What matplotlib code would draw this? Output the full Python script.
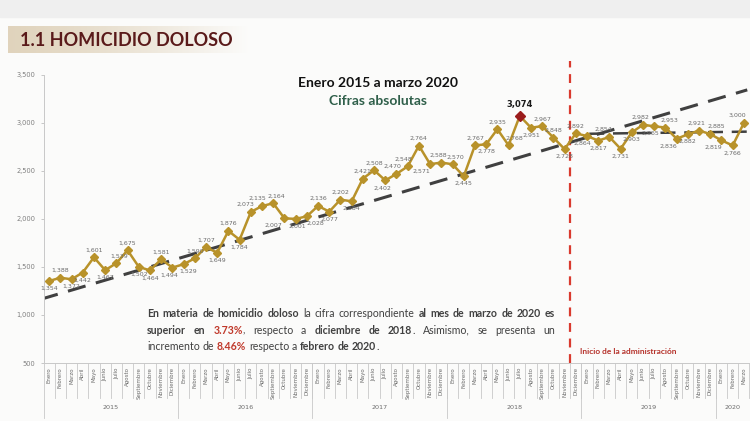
import matplotlib
matplotlib.use('Agg')
import matplotlib.pyplot as plt
import numpy as np
from matplotlib.transforms import blended_transform_factory, IdentityTransform

# datos
meses = ['Enero', 'Febrero', 'Marzo', 'Abril', 'Mayo', 'Junio', 'Julio', 'Agosto',
         'Septiembre', 'Octubre', 'Noviembre', 'Diciembre']
anios = ['2015', '2016', '2017', '2018', '2019', '2020']
meses_por_anio = [12, 12, 12, 12, 12, 3]
etiquetas_mes = meses * 5 + meses[:3]

homicidios = [1354, 1388, 1372, 1442, 1601, 1467, 1539, 1675, 1502, 1464, 1581, 1494,
              1529, 1590, 1707, 1649, 1876, 1784, 2073, 2135, 2164, 2007, 2001, 2028,
              2136, 2077, 2202, 2184, 2421, 2508, 2402, 2470, 2548, 2764, 2571, 2588,
              2570, 2445, 2767, 2778, 2935, 2768, 3074, 2951, 2967, 2848, 2728, 2892,
              2864, 2817, 2854, 2731, 2903, 2982, 2965, 2953, 2836, 2882, 2921, 2885,
              2819, 2766, 3000]
# a = etiqueta arriba, b = abajo
pos_etiqueta = ('babbabaabbab' + 'baababaaabbb' + 'ababaabaaaba' +
                'ababaaabaaba' + 'bbabbababbaa' + 'bba')
# corrimientos horizontales de algunas etiquetas (puntos)
corrimiento = {6: 2, 11: -2, 12: 3, 18: -4, 19: -3, 20: 2, 21: -8, 22: 1, 23: 6,
               30: -2, 31: -3, 32: -3, 34: -6, 35: -2, 36: 2, 41: 4, 48: -3, 50: -4,
               53: -2, 54: -3, 55: 3, 56: -6, 58: -2, 59: 4, 60: -6, 62: -5}

# lineas de tendencia
tend1_x = [-0.8, 62.3]
tend1_y = [1162, 3345]
tend2_x = [48.2, 62.3]
tend2_y = [2888, 2910]
inicio_admin = 46.5

W, H = 750, 421
fig = plt.figure(figsize=(7.5, 4.21), dpi=100)
fig.patch.set_facecolor('#fbfbfa')

def px(x):
    return x / W

def py(y):
    return 1 - y / H

# franja gris superior
fig.patches.append(plt.Rectangle((0, py(17)), 1, 17 / H, transform=fig.transFigure,
                                 color='#efefef', zorder=0))

# banda del titulo con degradado
band = fig.add_axes([px(8), py(53), px(240), 27 / H])
grad = np.linspace(0, 1, 256).reshape(1, -1)
c0 = np.array([0.88, 0.83, 0.74])
c1 = np.array([0.985, 0.985, 0.98])
img = c0[None, None, :] * (1 - grad[..., None] ** 1.3) + c1[None, None, :] * grad[..., None] ** 1.3
band.imshow(img, aspect='auto', extent=[0, 1, 0, 1])
band.axis('off')
fig.text(px(20), py(40), '1.1 HOMICIDIO DOLOSO', fontsize=13, fontweight='bold',
         family='Lato', color='#5a1a1a', va='center', ha='left')

ax = fig.add_axes([px(43.5), py(363), px(706), 288 / H])
ax.set_facecolor('none')
x = np.arange(len(homicidios))

ax.plot(tend1_x, tend1_y, color='#404040', lw=2.2, dashes=(6, 3.5), zorder=2)
ax.plot(tend2_x, tend2_y, color='#404040', lw=1.8, dashes=(6, 3.5), zorder=2)
ax.plot(x, homicidios, color='#b8922a', lw=1.8, marker='D', markersize=4.5, zorder=3)

pico = int(np.argmax(homicidios))
ax.plot(x[pico], homicidios[pico], marker='D', markersize=4.8, color='#9b1c1c', zorder=4)

for i, v in enumerate(homicidios):
    if i == pico:
        ax.annotate(f'{v:,}', (i, v), xytext=(0, 5), textcoords='offset points',
                    ha='center', va='bottom', fontsize=6, fontweight='bold', color='#1a1a1a')
        continue
    arriba = pos_etiqueta[i] == 'a'
    ax.annotate(f'{v:,}', (i, v), xytext=(corrimiento.get(i, 0), 3.5 if arriba else -3.5),
                textcoords='offset points', ha='center',
                va='bottom' if arriba else 'top', fontsize=4.5, color='#6b6b6b')

ax.set_xlim(-0.5, len(homicidios) - 0.5)
ax.set_ylim(500, 3500)
ax.set_yticks(range(500, 3501, 500))
ax.set_yticklabels([f'{t:,}' for t in range(500, 3501, 500)])
ax.tick_params(axis='y', labelsize=4.8, labelcolor='#7f7f7f', color='#bfbfbf', length=2.5, width=0.6)
ax.set_xticks(x)
ax.set_xticklabels(etiquetas_mes, rotation=90, fontsize=4, color='#6b6b6b')
ax.tick_params(axis='x', length=0, pad=3)
for s in ['top', 'right']:
    ax.spines[s].set_visible(False)
ax.spines['left'].set_color('#c8c8c8')
ax.spines['bottom'].set_color('#c8c8c8')
ax.spines['left'].set_linewidth(0.7)
ax.spines['bottom'].set_linewidth(0.7)

trans = blended_transform_factory(ax.transData, ax.transAxes)
for i in range(len(homicidios)):
    ax.plot([i + 0.5, i + 0.5], [0, -0.122], transform=trans, color='#c8c8c8',
            lw=0.6, clip_on=False)
inicio = -0.5
for a, n in zip(anios, meses_por_anio):
    ax.plot([inicio, inicio], [0, -0.19], transform=trans, color='#c8c8c8', lw=0.6, clip_on=False)
    ax.text(inicio + n / 2, -0.155, a, transform=trans, ha='center', va='center',
            fontsize=4.6, color='#6b6b6b')
    inicio += n

# inicio de la administracion
ax.plot([inicio_admin, inicio_admin], [0, 1.05], transform=trans, color='#d93a2e',
        lw=1.6, dashes=(4, 3), clip_on=False, zorder=1)
fig.text(px(580), py(351), 'Inicio de la administración', fontsize=6, fontweight='bold',
         family='Lato', color='#b5322b', va='center', ha='left')

fig.text(px(378), py(83), 'Enero 2015 a marzo 2020', fontsize=10, fontweight='bold',
         family='Lato', color='#111111', ha='center', va='center')
fig.text(px(378), py(101), 'Cifras absolutas', fontsize=10, fontweight='bold',
         family='Lato', color='#2f5f4a', ha='center', va='center')

# parrafo justificado con estilos mezclados
estilos = {'n': dict(color='#404040'),
           'b': dict(color='#404040', fontweight='bold'),
           'r': dict(color='#c0392b', fontweight='bold')}
lineas = [
    ([('En', 'b', 0), ('materia', 'b', 1), ('de', 'b', 1), ('homicidio', 'b', 1), ('doloso', 'b', 1),
      ('la', 'n', 1), ('cifra', 'n', 1), ('correspondiente', 'n', 1), ('al', 'b', 1), ('mes', 'b', 1),
      ('de', 'b', 1), ('marzo', 'b', 1), ('de', 'b', 1), ('2020', 'b', 1), ('es', 'b', 1)], True),
    ([('superior', 'b', 0), ('en', 'b', 1), ('3.73%', 'r', 1), (',', 'n', 0), ('respecto', 'n', 1),
      ('a', 'n', 1), ('diciembre', 'b', 1), ('de', 'b', 1), ('2018', 'b', 1), ('.', 'n', 0),
      ('Asimismo,', 'n', 1), ('se', 'n', 1), ('presenta', 'n', 1), ('un', 'n', 1)], True),
    ([('incremento', 'n', 0), ('de', 'n', 1), ('8.46%', 'r', 1), ('respecto', 'n', 1), ('a', 'n', 1),
      ('febrero', 'b', 1), ('de', 'b', 1), ('2020', 'b', 1), ('.', 'n', 0)], False),
]
r = fig.canvas.get_renderer()
tam = 7.6
x0, ancho = 147, 408
t1 = fig.text(0, 0, 'a a', fontsize=tam, family='Lato', transform=IdentityTransform())
t2 = fig.text(0, 0, 'aa', fontsize=tam, family='Lato', transform=IdentityTransform())
esp = t1.get_window_extent(r).width - t2.get_window_extent(r).width
t1.remove()
t2.remove()
for k, (tokens, justificar) in enumerate(lineas):
    yb = H - (317 + k * 16.5)
    items = []
    for txt, st, sp in tokens:
        t = fig.text(0, 0, txt, fontsize=tam, family='Lato', transform=IdentityTransform(),
                     **estilos[st])
        items.append((t, t.get_window_extent(r).width, sp))
    total = sum(w for _, w, _ in items)
    huecos = sum(sp for _, _, sp in items)
    gap = (ancho - total) / huecos if justificar else esp
    xc = x0
    for t, w, sp in items:
        if sp:
            xc += gap
        t.set_position((xc, yb))
        xc += w

fig.savefig('out.png', dpi=100, facecolor=fig.get_facecolor())
